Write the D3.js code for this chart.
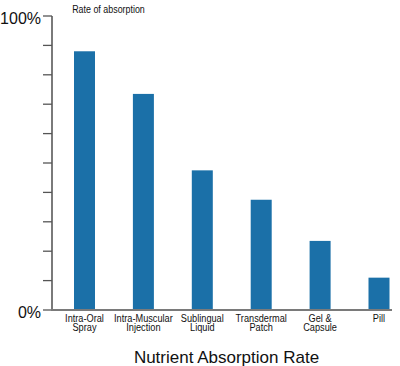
<!DOCTYPE html>
<html><head><meta charset="utf-8">
<script src="https://cdn.jsdelivr.net/npm/d3@7"></script>
<style>body{margin:0;background:#fff}svg{display:block}</style>
</head><body>
<script>
const categories = ["Intra-Oral Spray","Intra-Muscular Injection","Sublingual Liquid","Transdermal Patch","Gel & Capsule","Pill"];
const labelLines = [["Intra-Oral","Spray"],["Intra-Muscular","Injection"],["Sublingual","Liquid"],["Transdermal","Patch"],["Gel &","Capsule"],["Pill"]];
const values = [88, 73.5, 47.5, 37.5, 23.5, 11];
const yTicks = [0,10,20,30,40,50,60,70,80,90,100];
const yTickLabels = {0:"0%",100:"100%"};
const yLabel = "Rate of absorption";
const xTitle = "Nutrient Absorption Rate";

const W=400,H=366;
const svg=d3.select("body").append("svg").attr("width",W).attr("height",H);
const y=d3.scaleLinear().domain([0,100]).range([310,16]);
const x=d3.scalePoint().domain(categories).range([84.5,379]);
const bw=21;
const font="Arial,'Liberation Sans',sans-serif";

svg.append("g").selectAll("rect").data(values).join("rect")
  .attr("x",(d,i)=>x(categories[i])-bw/2).attr("width",bw)
  .attr("y",d=>y(d)).attr("height",d=>y(0)-y(d)).attr("fill","#1b70a8");

// y axis
const ya=svg.append("g");
ya.append("line").attr("x1",52).attr("x2",52).attr("y1",y(100)).attr("y2",y(0)+1).attr("stroke","#7a7a7a").attr("stroke-width",2);
ya.selectAll("line.t").data(yTicks).join("line").attr("class","t")
  .attr("x1",43).attr("x2",52).attr("y1",d=>y(d)).attr("y2",d=>y(d)).attr("stroke","#555").attr("stroke-width",1.3);
ya.selectAll("text").data(yTicks.filter(d=>yTickLabels[d])).join("text")
  .attr("x",41).attr("y",d=>y(d)+8).attr("text-anchor","end")
  .attr("font-family",font).attr("font-size",16).attr("fill","#111")
  .text(d=>yTickLabels[d]);
// x axis
svg.append("line").attr("x1",51).attr("x2",392).attr("y1",y(0)).attr("y2",y(0)).attr("stroke","#7a7a7a").attr("stroke-width",2);

const lg=svg.append("g");
categories.forEach((c,i)=>{
  const t=lg.append("text").attr("transform",`translate(${x(c)},0) scale(0.8,1)`).attr("text-anchor","middle")
    .attr("font-family",font).attr("font-size",11.5).attr("fill","#111");
  labelLines[i].forEach((s,j)=>t.append("tspan").attr("x",0).attr("y",322.5+j*9).text(s));
});

svg.append("text").attr("transform","translate(108.5,12.5) scale(0.89,1)").attr("text-anchor","middle")
  .attr("font-family",font).attr("font-size",10).attr("fill","#111").text(yLabel);
svg.append("text").attr("x",226.5).attr("y",363).attr("text-anchor","middle")
  .attr("font-family",font).attr("font-size",17).attr("fill","#111").text(xTitle);
</script>
</body></html>
